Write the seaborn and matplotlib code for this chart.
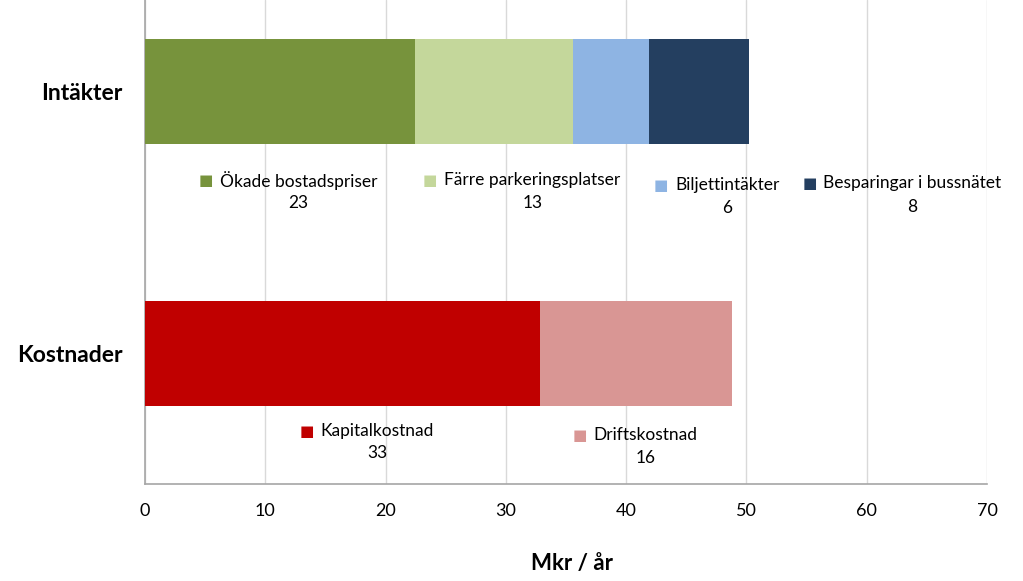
import matplotlib
matplotlib.use("Agg")
import matplotlib.pyplot as plt
import seaborn as sns
import pandas as pd
import numpy as np

# ---- data ----
categories = ["Intäkter", "Kostnader"]
intakt_names = ["Ökade bostadspriser", "Färre parkeringsplatser", "Biljettintäkter", "Besparingar i bussnätet"]
intakt_values = [22.45, 13.15, 6.3, 8.3]
intakt_labels = ["23", "13", "6", "8"]
kostnad_names = ["Kapitalkostnad", "Driftskostnad"]
kostnad_values = [32.85, 15.95]
kostnad_labels = ["33", "16"]
x_ticks = [0, 10, 20, 30, 40, 50, 60, 70]

# ---- styles / layout ----
intakt_colors = ["#77933C", "#C4D79B", "#8EB4E3", "#243F60"]
kostnad_colors = ["#C00000", "#D99694"]
# label anchor positions (x in data units, y name / y value in category units)
intakt_label_x = [12.77, 32.2, 48.4, 63.8]
intakt_label_y = [(0.338, 0.425), (0.338, 0.425), (0.357, 0.445), (0.350, 0.440)]
kostnad_label_x = [19.33, 41.6]
kostnad_label_y = [(1.296, 1.38), (1.311, 1.399)]

sns.set_theme(style="white")
plt.rcParams["font.family"] = ["Lato", "DejaVu Sans"]

fig = plt.figure(figsize=(10.23, 5.81), dpi=100)
ax = fig.add_axes([145 / 1023, 1 - 484 / 581, (987 - 145) / 1023, 484 / 581])


def draw_stack(cat, values, colors, z0):
    cums = np.cumsum(values)
    # draw from the largest cumulative to the smallest so each segment shows
    for i in range(len(values) - 1, -1, -1):
        df = pd.DataFrame({"cat": [cat], "val": [cums[i]]})
        sns.barplot(data=df, x="val", y="cat", order=categories, orient="h",
                    color=colors[i], width=0.4, saturation=1, ax=ax,
                    zorder=z0 + (len(values) - i), linewidth=0)


draw_stack(categories[0], intakt_values, intakt_colors, 3)
draw_stack(categories[1], kostnad_values, kostnad_colors, 3)

ax.set_xlim(0, 70)
ax.set_ylim(1.498, -0.35)
ax.set_xticks(x_ticks)
ax.set_xticklabels([str(t) for t in x_ticks])
ax.xaxis.grid(True, color="#D9D9D9", linewidth=1)
ax.set_axisbelow(True)
ax.yaxis.grid(False)
for s in ["top", "right"]:
    ax.spines[s].set_visible(False)
ax.spines["left"].set_color("#A6A6A6")
ax.spines["bottom"].set_color("#A6A6A6")
ax.spines["left"].set_linewidth(1.2)
ax.spines["bottom"].set_linewidth(1.2)
ax.tick_params(axis="x", length=0, pad=14, labelsize=13, colors="black")
ax.tick_params(axis="y", length=0, pad=16)
for lab in ax.get_yticklabels():
    lab.set_fontsize(16.5)
    lab.set_fontweight("bold")
    lab.set_color("black")
ax.set_ylabel("")
ax.set_xlabel("Mkr / år", fontsize=16, fontweight="bold", color="black", labelpad=22)
ax.xaxis.set_label_coords(0.507, -0.142)


def draw_labels(names, labels, colors, xs, ys):
    for name, lab, col, x, (yn, yv) in zip(names, labels, colors, xs, ys):
        t = ax.text(x, yn, name, ha="center", va="center", fontsize=12.5, color="black", zorder=10)
        ax.annotate("■", xy=(0, 0.5), xycoords=t, xytext=(-14, 0), textcoords="offset pixels",
                    ha="center", va="center", fontsize=11, color=col,
                    family="DejaVu Sans", zorder=10)
        ax.text(x, yv, lab, ha="center", va="center", fontsize=12.5, color="black", zorder=10)


draw_labels(intakt_names, intakt_labels, intakt_colors, intakt_label_x, intakt_label_y)
draw_labels(kostnad_names, kostnad_labels, kostnad_colors, kostnad_label_x, kostnad_label_y)

fig.savefig("out.png", dpi=100, facecolor="white")
